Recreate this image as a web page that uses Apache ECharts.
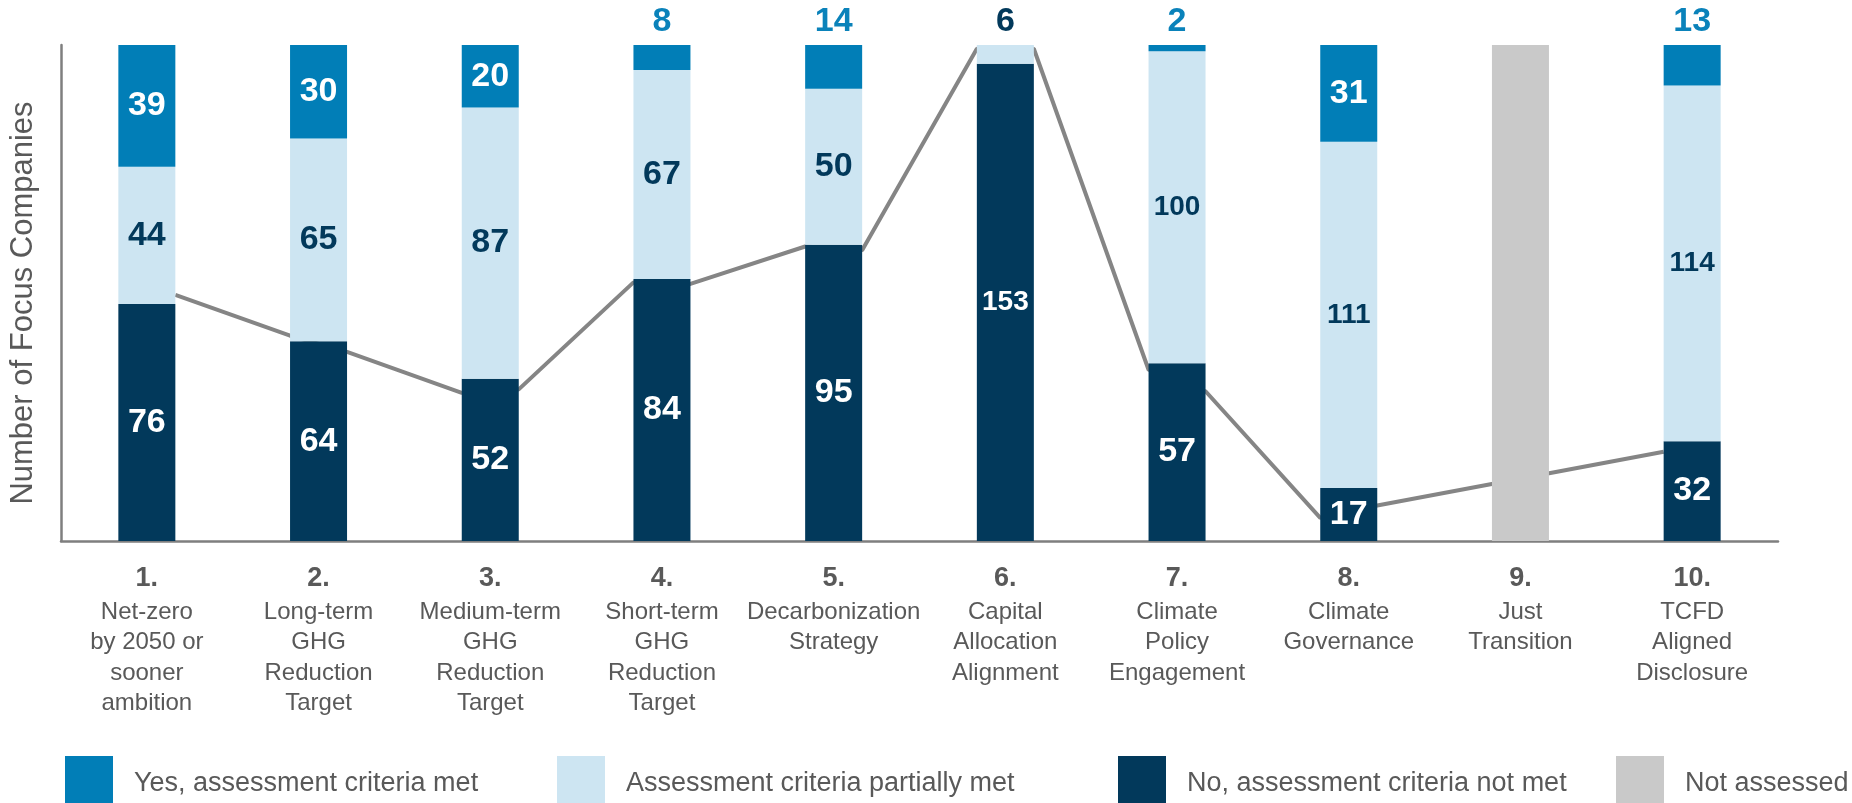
<!DOCTYPE html>
<html>
<head>
<meta charset="utf-8">
<script src="https://cdn.jsdelivr.net/npm/echarts@6/dist/echarts.min.js"></script>
<style>
html,body{margin:0;padding:0;background:#fff;}
#chart{width:1852px;height:803px;}
</style>
</head>
<body>
<div id="chart"></div>
<script>
// ---- data ----
const categories = [
  'Net-zero\nby 2050 or\nsooner\nambition',
  'Long-term\nGHG\nReduction\nTarget',
  'Medium-term\nGHG\nReduction\nTarget',
  'Short-term\nGHG\nReduction\nTarget',
  'Decarbonization\nStrategy',
  'Capital\nAllocation\nAlignment',
  'Climate\nPolicy\nEngagement',
  'Climate\nGovernance',
  'Just\nTransition',
  'TCFD\nAligned\nDisclosure'
];
const seriesNames = [
  'Yes, assessment criteria met',
  'Assessment criteria partially met',
  'No, assessment criteria not met',
  'Not assessed'
];
const noVals       = [76, 64, 52, 84, 95, 153, 57, 17, null, 32];
const partialVals  = [44, 65, 87, 67, 50, 6, 100, 111, null, 114];
const yesVals      = [39, 30, 20, 8, 14, null, 2, 31, null, 13];
const notAssessed  = [null, null, null, null, null, null, null, null, 159, null];
const totalCompanies = 159;
// connecting line: value where it meets the left / right edge of each bar
const lineLeftVals  = [null, 65.8, 47.5, 82.9, 94.4, 157.8, 54.9, 7.4, null, 28.6];
const lineRightVals = [78.9, 60.6, 48.6, 82.4, 93.2, 157.8, 48.0, 11.4, null, null];

// ---- styling ----
const C_YES = '#017EB7', C_PART = '#CDE5F2', C_NO = '#02395B', C_NA = '#C9C9C9';
const FONT = '"Liberation Sans", Arial, sans-serif';
const TXT = '#595959';
const gridLeft = 60, gridWidth = 1718, barW = 57;
const halfBar = (barW / 2) / (gridWidth / categories.length);

function mkData(vals, insideColor, topColor) {
  return vals.map(v => {
    if (v == null) return { value: '-', label: { show: false } };
    const small = v < 16;
    return {
      value: v,
      label: {
        show: true,
        position: small ? 'top' : 'inside',
        distance: 6,
        color: small ? topColor : insideColor,
        fontSize: String(v).length >= 3 ? 28 : 34,
        fontWeight: 'bold',
        fontFamily: FONT
      }
    };
  });
}

const linePts = [];
for (let i = 0; i < categories.length; i++) {
  if (lineLeftVals[i] != null) linePts.push([i - halfBar, lineLeftVals[i]]);
  if (lineRightVals[i] != null) linePts.push([i + halfBar, lineRightVals[i]]);
}

const barBase = {
  type: 'bar', stack: 'total', barWidth: barW, xAxisIndex: 0, yAxisIndex: 0, z: 3,
  emphasis: { disabled: true }, label: { show: false }
};

const legendLefts = [65, 557, 1118, 1616];
const legends = seriesNames.map((n, k) => ({
  data: [n], left: legendLefts[k], top: 756, padding: 0,
  icon: 'rect', itemWidth: 48, itemHeight: 56,
  selectedMode: false,
  textStyle: { fontSize: 27, color: TXT, fontFamily: FONT, padding: [0, 0, 0, 16] }
}));

const option = {
  animation: false,
  backgroundColor: '#ffffff',
  grid: { left: gridLeft, width: gridWidth, top: 45, bottom: 262, containLabel: false },
  legend: legends,
  xAxis: [
    {
      type: 'category', data: categories, position: 'bottom',
      axisLine: { show: true, onZero: false, lineStyle: { color: '#7F7F7F', width: 2.5 } },
      axisTick: { show: false },
      axisLabel: {
        interval: 0, margin: 20, color: TXT, fontFamily: FONT,
        formatter: (val, idx) => {
          const lines = val.split('\n').map(s => '{txt|' + s + '}');
          return '{num|' + (idx + 1) + '.}\n' + lines.join('\n');
        },
        rich: {
          num: { fontSize: 27, fontWeight: 'bold', lineHeight: 36, color: TXT, fontFamily: FONT },
          txt: { fontSize: 24, lineHeight: 30.5, color: TXT, fontFamily: FONT }
        }
      }
    },
    {
      type: 'value', min: -0.5, max: 9.5, show: false, position: 'bottom',
      axisLine: { show: false, onZero: false }, axisTick: { show: false },
      axisLabel: { show: false }, splitLine: { show: false }
    }
  ],
  yAxis: {
    type: 'value', min: 0, max: totalCompanies,
    axisLine: { show: true, onZero: false, lineStyle: { color: '#7F7F7F', width: 2.5 } },
    axisTick: { show: false }, axisLabel: { show: false }, splitLine: { show: false },
    name: 'Number of Focus Companies', nameLocation: 'middle', nameRotate: 90, nameGap: 22,
    nameTextStyle: { fontSize: 31, color: TXT, fontFamily: FONT, padding: [0, 20, 0, 0] }
  },
  series: [
    {
      type: 'line', name: 'connector', xAxisIndex: 1, yAxisIndex: 0, z: 1,
      data: linePts, symbol: 'none', silent: true,
      lineStyle: { color: '#858585', width: 4 }
    },
    Object.assign({}, barBase, { name: seriesNames[2], data: mkData(noVals, '#ffffff', C_NO), itemStyle: { color: C_NO } }),
    Object.assign({}, barBase, { name: seriesNames[1], data: mkData(partialVals, C_NO, C_NO), itemStyle: { color: C_PART } }),
    Object.assign({}, barBase, { name: seriesNames[0], data: mkData(yesVals, '#ffffff', '#0A82BA'), itemStyle: { color: C_YES } }),
    Object.assign({}, barBase, { name: seriesNames[3], data: notAssessed.map(v => v == null ? '-' : v), itemStyle: { color: C_NA } })
  ]
};

const chart = echarts.init(document.getElementById('chart'), null, { renderer: 'canvas' });
chart.setOption(option);
</script>
</body>
</html>
